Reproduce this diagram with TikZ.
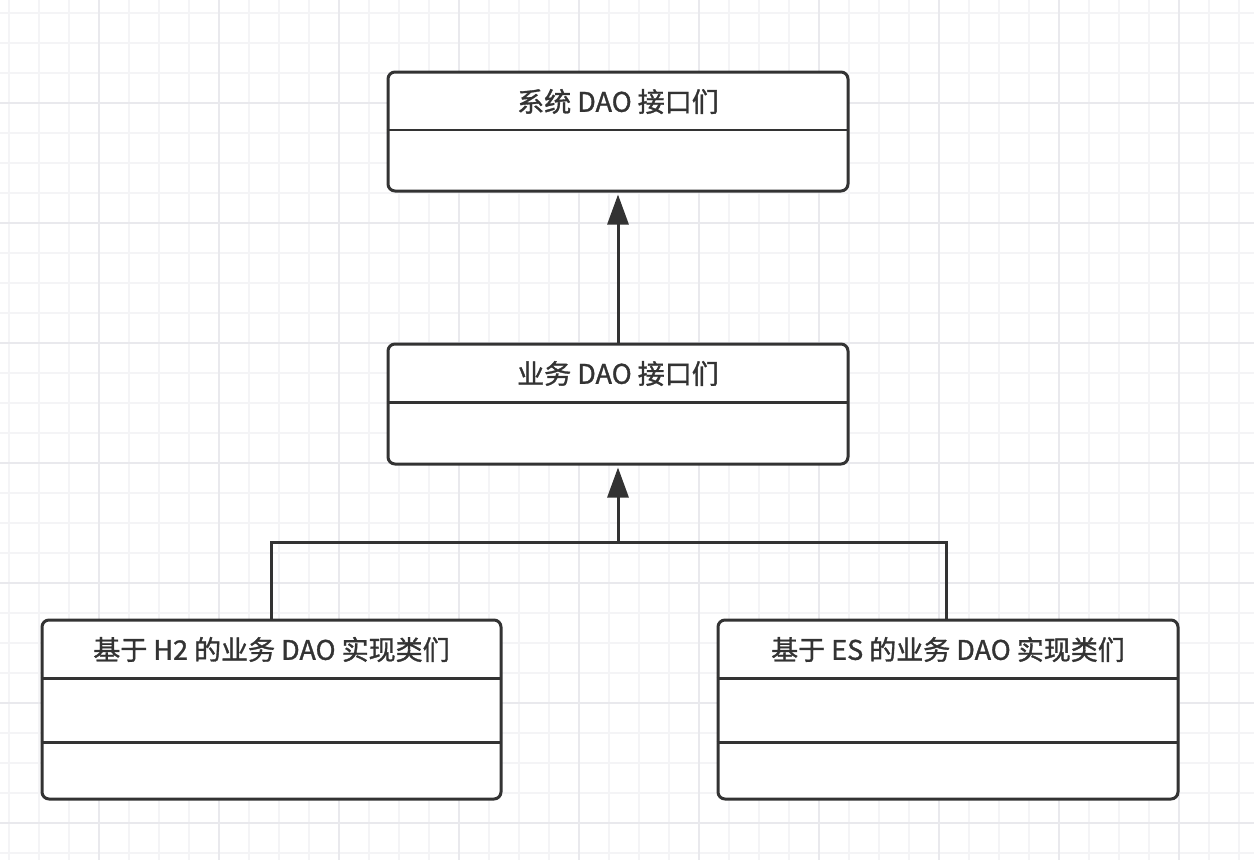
\documentclass[tikz,border=0pt]{standalone}
\usepackage{fontspec}
\usetikzlibrary{arrows.meta,positioning}
\newfontfamily\cjk[FakeBold=1.2]{Noto Sans CJK SC}
\definecolor{inkgray}{HTML}{333333}
\definecolor{gridlite}{HTML}{F4F4F6}
\definecolor{griddark}{HTML}{E9E9ED}

\begin{document}
\begin{tikzpicture}[x=1pt,y=-1pt,
    umlbox/.style={draw=inkgray, line width=3pt, rounded corners=7pt, fill=white, inner sep=0pt},
    umltitle/.style={text=inkgray, font=\cjk\fontsize{27}{32}\selectfont, inner sep=0pt},
    divider/.style={draw=inkgray, line width=2.6pt},
    wire/.style={draw=inkgray, line width=3pt},
    inherit/.style={wire, -{Triangle[width=21pt,length=30pt]}, shorten >=2pt}]
  % Fix the page size
  \useasboundingbox[fill=white] (0,0) rectangle (1254,860);

  % Draw the background grid
  \foreach \gx in {9,39,...,1254} {
    \draw[gridlite, line width=2pt] (\gx,0) -- (\gx,860);
  }
  \foreach \gy in {12.7,42.7,...,860} {
    \draw[gridlite, line width=2pt] (0,\gy) -- (1254,\gy);
  }
  \foreach \gx in {99,219,...,1254} {
    \draw[griddark, line width=2pt] (\gx,0) -- (\gx,860);
  }
  \foreach \gy in {102.7,222.7,...,860} {
    \draw[griddark, line width=2pt] (0,\gy) -- (1254,\gy);
  }

  % Class boxes
  \node[umlbox, minimum width=460pt, minimum height=119pt] (sysdao) at (618,131.5) {};
  \node[umlbox, minimum width=460pt, minimum height=120pt] (bizdao) at (618,404) {};
  \node[umlbox, minimum width=459pt, minimum height=179pt] (htwo) at (271.5,709.5) {};
  \node[umlbox, minimum width=460pt, minimum height=179pt] (esimpl) at (948,709.5) {};

  % Compartment lines
  \draw[divider] (sysdao.north west) ++(0,59.5) -- ++(460,0);
  \draw[divider] (bizdao.north west) ++(0,60) -- ++(460,0);
  \draw[divider] (htwo.north west) ++(0,60) -- ++(459,0);
  \draw[divider] (htwo.north west) ++(0,124) -- ++(459,0);
  \draw[divider] (esimpl.north west) ++(0,60) -- ++(460,0);
  \draw[divider] (esimpl.north west) ++(0,124) -- ++(460,0);

  % Class names
  \node[umltitle] (sysdao-name) at ([yshift=-31pt]sysdao.north) {系统 DAO 接口们};
  \node[umltitle] (bizdao-name) at ([yshift=-31pt]bizdao.north) {业务 DAO 接口们};
  \node[umltitle] (htwo-name) at ([yshift=-31pt]htwo.north) {基于 H2 的业务 DAO 实现类们};
  \node[umltitle] (esimpl-name) at ([yshift=-31pt]esimpl.north) {基于 ES 的业务 DAO 实现类们};

  % Generalisation arrows
  \draw[inherit] (bizdao.north) -- (sysdao.south);
  \coordinate (join) at (618,542);
  \draw[wire] (htwo.north) |- (join) -| ([xshift=-2pt]esimpl.north);
  \draw[inherit] (join) -- (bizdao.south);

\end{tikzpicture}
\end{document}
